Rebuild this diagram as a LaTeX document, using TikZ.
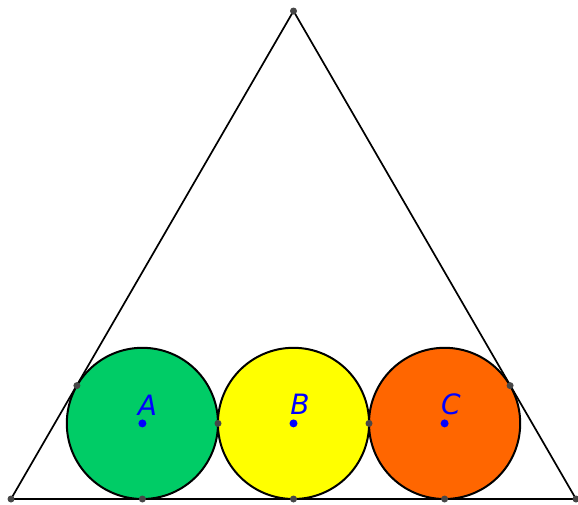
\documentclass[tikz,border=0pt]{standalone}
\usepackage{fontspec}
\setmainfont{DejaVu Sans}
\begin{document}
\begin{tikzpicture}[x=1pt,y=-1pt,
  side/.style={draw=black,line width=1.7pt},
  disc/.style={draw=black,line width=2pt},
  gdot/.style={circle,fill=black!72,inner sep=0pt,minimum size=7pt},
  bdot/.style={circle,fill=blue,inner sep=0pt,minimum size=8pt},
  lbl/.style={text=blue,font=\fontsize{28}{28}\selectfont\itshape,inner sep=0pt,anchor=base}]
\useasboundingbox (0,0) rectangle (578,504);
\definecolor{cgreen}{RGB}{0,204,102}
\definecolor{corange}{RGB}{255,102,0}
\definecolor{cyellow}{RGB}{255,255,0}
\def\r{75.6}
\coordinate (P) at (11,499);
\coordinate (Q) at (576,499);
\coordinate (R) at (293.5,11);
\fill[cgreen] (142.4,423.4) circle (\r);
\fill[cyellow] (293.5,423.4) circle (\r);
\fill[corange] (444.6,423.4) circle (\r);
\draw[disc] (142.4,423.4) circle (\r);
\draw[disc] (293.5,423.4) circle (\r);
\draw[disc] (444.6,423.4) circle (\r);
\draw[side] (P) -- (Q) -- (R) -- cycle;
\node[gdot] (p) at (P) {};
\node[gdot] (q) at (Q) {};
\node[gdot] (rr) at (R) {};
\node[gdot] (t1) at (142.4,499) {};
\node[gdot] (t2) at (293.5,499) {};
\node[gdot] (t3) at (444.6,499) {};
\node[gdot] (t4) at (218,423.4) {};
\node[gdot] (t5) at (369,423.4) {};
\node[gdot] (t6) at (76.9,385.6) {};
\node[gdot] (t7) at (510.1,385.6) {};
\node[bdot] (a) at (142.4,423.4) {};
\node[bdot] (b) at (293.5,423.4) {};
\node[bdot] (c) at (444.6,423.4) {};
\node[lbl] at (147.5,415) {A};
\node[lbl] at (300,414) {B};
\node[lbl] at (451,414) {C};
\end{tikzpicture}
\end{document}
